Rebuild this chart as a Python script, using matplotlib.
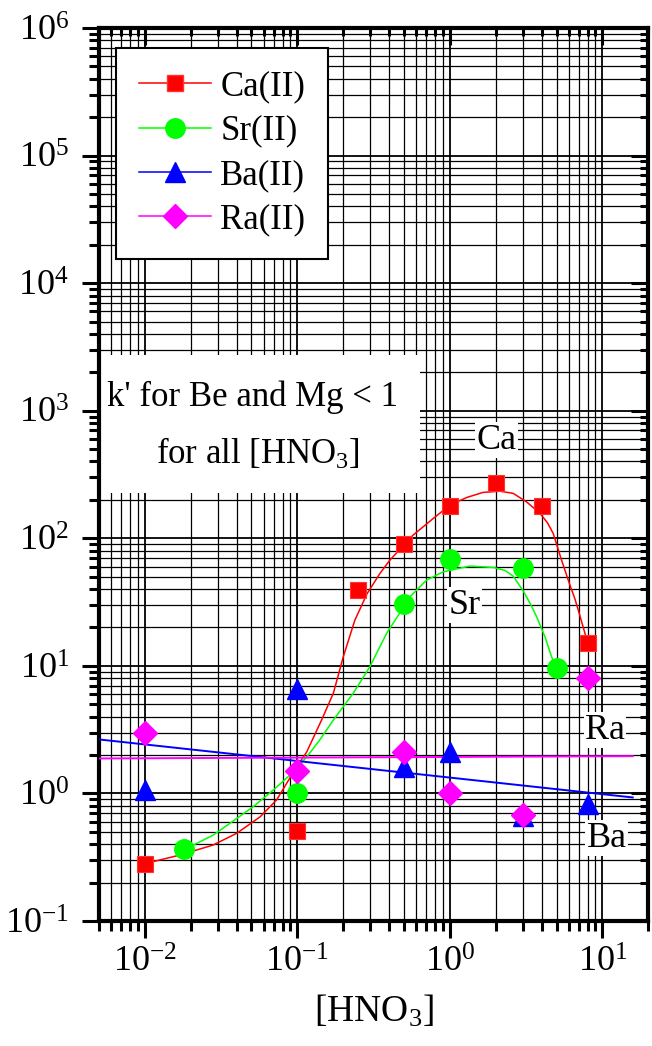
import numpy as np
import matplotlib
matplotlib.use("Agg")
import matplotlib.pyplot as plt
from matplotlib.lines import Line2D
from matplotlib.patches import Rectangle
from matplotlib.ticker import LogLocator, NullFormatter

plt.rcParams['font.family'] = ['Liberation Serif', 'DejaVu Serif']
plt.rcParams['mathtext.fontset'] = 'custom'
plt.rcParams['mathtext.rm'] = 'Liberation Serif'
plt.rcParams['mathtext.it'] = 'Liberation Serif:italic'
plt.rcParams['mathtext.bf'] = 'Liberation Serif:bold'

# measured k' values vs [HNO3]
ca_x = [0.01, 0.1, 0.25, 0.5, 1.0, 2.0, 4.0, 8.0]
ca_y = [0.28, 0.51, 39, 91, 180, 272, 180, 15.2]
sr_x = [0.018, 0.1, 0.5, 1.0, 3.0, 5.0]
sr_y = [0.365, 1.01, 30.5, 68.4, 58.1, 9.6]
ba_x = [0.01, 0.1, 0.5, 1.0, 3.0, 8.0]
ba_y = [1.06, 6.6, 1.61, 2.12, 0.66, 0.83]
ra_x = [0.01, 0.1, 0.5, 1.0, 3.0, 8.0]
ra_y = [3.0, 1.5, 2.12, 1.01, 0.68, 8.0]

# smooth fit curves
ca_fit_x = [0.01, 0.0113, 0.017, 0.028, 0.04, 0.057, 0.073, 0.085, 0.099, 0.115,
            0.144, 0.172, 0.20, 0.238, 0.287, 0.348, 0.404, 0.574, 0.777, 1.0,
            1.29, 1.65, 2.13, 2.6, 3.18, 3.89, 4.35, 4.76, 5.34, 6.12, 6.6, 6.94, 7.68, 8.0]
ca_fit_y = [0.283, 0.292, 0.329, 0.394, 0.487, 0.656, 0.888, 1.2, 1.62, 2.11,
            3.76, 6.09, 11.8, 22.8, 37.0, 53.1, 67.5, 106, 143, 182,
            209, 229, 234, 225, 193, 157, 133, 109, 70, 43, 33.5, 27.4, 18.0, 15.2]
sr_fit_x = [0.0178, 0.0202, 0.0281, 0.0361, 0.0513, 0.0693, 0.0893, 0.115, 0.14,
            0.172, 0.232, 0.2985, 0.3845, 0.499, 0.547, 0.703, 0.904, 1.353, 1.923,
            2.3, 2.6, 3.03, 3.4, 3.7, 4.2, 4.64, 5.01]
sr_fit_y = [0.365, 0.387, 0.472, 0.583, 0.787, 1.06, 1.39, 1.93, 2.62,
            3.76, 6.09, 9.84, 18.0, 29.1, 34.8, 47.0, 54.6, 60.6, 59.1,
            56.0, 50.5, 38.5, 30.0, 24.3, 16.9, 11.8, 9.56]

# straight fits for Ba and Ra (end points)
ba_fit_x = [0.005, 15.8]
ba_fit_y = [2.65, 0.93]
ra_fit_x = [0.005, 15.8]
ra_fit_y = [1.88, 1.96]

fig = plt.figure(figsize=(6.52, 10.46), dpi=100)
ax = fig.add_axes([0.1518, 0.1195, 0.8426, 0.8537])
ax.set_xscale('log')
ax.set_yscale('log')
ax.set_xlim(0.005, 20)
ax.set_ylim(0.1, 1e6)
ax.set_axisbelow(True)

ax.xaxis.set_major_locator(LogLocator(base=10, numticks=20))
ax.xaxis.set_minor_locator(LogLocator(base=10, subs=np.arange(2, 10), numticks=40))
ax.yaxis.set_major_locator(LogLocator(base=10, numticks=20))
ax.yaxis.set_minor_locator(LogLocator(base=10, subs=np.arange(2, 10), numticks=40))
ax.xaxis.set_minor_formatter(NullFormatter())
ax.yaxis.set_minor_formatter(NullFormatter())

ax.grid(which='major', color='black', lw=1.3)
ax.grid(which='minor', color='black', lw=0.9)

ax.tick_params(which='both', direction='out', top=False, right=False,
               labelsize=26, width=2.2)
ax.tick_params(which='major', length=12.5)
ax.tick_params(which='minor', length=7)
ax.tick_params(axis='y', pad=9)
ax.tick_params(axis='x', pad=6)
for s in ax.spines.values():
    s.set_linewidth(3)

# inward ticks on top and right
ident = (lambda v: v, lambda v: v)
top = ax.secondary_xaxis('top', functions=ident)
right = ax.secondary_yaxis('right', functions=ident)
for sec in (top, right):
    for s in sec.spines.values():
        s.set_visible(False)
top.xaxis.set_minor_locator(LogLocator(base=10, subs=np.arange(2, 10), numticks=40))
right.yaxis.set_minor_locator(LogLocator(base=10, subs=np.arange(2, 10), numticks=40))
top.tick_params(which='both', direction='in', labeltop=False, width=2.2)
right.tick_params(which='both', direction='in', labelright=False, width=2.2)
top.tick_params(which='major', length=12.5)
top.tick_params(which='minor', length=6)
right.tick_params(which='major', length=12.5)
right.tick_params(which='minor', length=6)
top.xaxis.set_minor_formatter(NullFormatter())
right.yaxis.set_minor_formatter(NullFormatter())

# fit curves
ax.plot(ca_fit_x, ca_fit_y, color='#FF0000', lw=1.1, zorder=3)
ax.plot(sr_fit_x, sr_fit_y, color='#00FF00', lw=1.1, zorder=3)
ax.plot(ba_fit_x, ba_fit_y, color='#0000FF', lw=1.4, zorder=3)
ax.plot(ra_fit_x, ra_fit_y, color='#FF00FF', lw=1.4, zorder=3)

# data points
ax.plot(ca_x, ca_y, ls='none', marker='s', ms=12, color='#FF0000', mec='#FF3333', mew=0.8, zorder=4)
ax.plot(sr_x, sr_y, ls='none', marker='o', ms=14, color='#00FF00', mec='#00FF00', zorder=4)
ax.plot(ba_x, ba_y, ls='none', marker='^', ms=15, color='#0000FF', mec='#0000FF', zorder=4)
ax.plot(ra_x, ra_y, ls='none', marker='D', ms=12, color='#FF00FF', mec='#FF00FF', zorder=5)

# white box with note
ax.add_patch(Rectangle((0.0, 0.479), 0.584, 0.155, transform=ax.transAxes,
                       facecolor='white', edgecolor='none', zorder=1))
ax.text(0.280, 0.587, "k' for Be and Mg < 1", transform=ax.transAxes,
        ha='center', va='center', fontsize=25, zorder=2)
ax.text(0.290, 0.523, r"for all [HNO$_3$]", transform=ax.transAxes,
        ha='center', va='center', fontsize=25, zorder=2)

lab_box = dict(facecolor='white', edgecolor='none', pad=1)
ax.text(2.03, 589, 'Ca', ha='center', va='center', fontsize=26, bbox=lab_box, zorder=2)
ax.text(1.25, 29.9, 'Sr', ha='center', va='center', fontsize=26, bbox=lab_box, zorder=2)
ax.text(10.4, 3.14, 'Ra', ha='center', va='center', fontsize=26, bbox=lab_box, zorder=2)
ax.text(10.7, 0.447, 'Ba', ha='center', va='center', fontsize=26, bbox=lab_box, zorder=2)

handles = [
    Line2D([], [], color='#FF0000', lw=1.1, marker='s', ms=12, mec='#FF3333'),
    Line2D([], [], color='#00FF00', lw=1.1, marker='o', ms=14),
    Line2D([], [], color='#0000FF', lw=1.1, marker='^', ms=15),
    Line2D([], [], color='#FF00FF', lw=1.1, marker='D', ms=12),
]
leg = ax.legend(handles, ['Ca(II)', 'Sr(II)', 'Ba(II)', 'Ra(II)'],
                loc='upper left', bbox_to_anchor=(0.031, 0.978), borderaxespad=0,
                fontsize=25, fancybox=False, framealpha=1, edgecolor='black',
                handlelength=2.1, handletextpad=0.25, labelspacing=0.33,
                borderpad=0.65, numpoints=1)
leg.get_frame().set_linewidth(1.5)
leg.set_zorder(10)

ax.set_xlabel(r'[HNO$_3$]', fontsize=27, labelpad=10)

fig.savefig('out.png', dpi=100)
